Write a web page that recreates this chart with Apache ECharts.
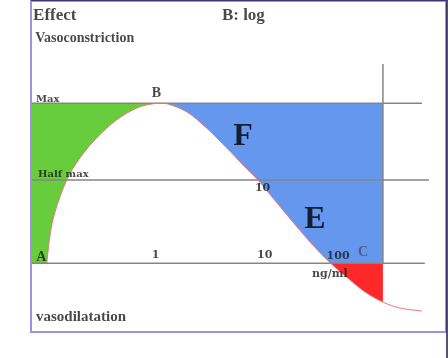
<!DOCTYPE html>
<html><head><meta charset="utf-8">
<script src="https://cdn.jsdelivr.net/npm/echarts@6/dist/echarts.min.js"></script>
<style>html,body{margin:0;padding:0;background:#fff}#c{width:448px;height:358px}</style>
</head><body><div id="c"></div>
<script>
// Dose-response curve (x: relative log concentration, y: effect, baseline 0, max 100)
const curveX = [3.8, 4.6, 5.8, 8.6, 11.8, 15.8, 20.6, 25.5, 29.1, 31.1, 33.1, 37.5, 42.3, 47.2, 51.1, 54.7, 58.3, 63.1, 67.9, 72.2, 76.9, 80.5, 84.8, 88.9, 94.2];
const curveY = [0, 17.6, 32.2, 52, 65.9, 78.3, 89.6, 97.1, 99.6, 100, 99.5, 94.7, 84.6, 72, 61.4, 52, 40.8, 25.8, 11.4, 0, -10.5, -18, -24.3, -28, -29.9];
const peakIndex = 9;
const crossIndex = 19;
const edgeIndex = 22;
// reference levels: Max, Half max, baseline
const refLevels = [100, 52, 0];
const refEnds = [94.2, 95.9, 94.9];
const edgeTop = 124.6;
// annotation texts
const annoText = ['Effect', 'B: log', 'Vasoconstriction', 'Max', 'B', 'Half max', '10', 'F', 'E', 'A', '1', '10', '100', 'C', 'ng/ml', 'vasodilatation'];
const annoX = [0.5, 46.0, 1.0, 1.2, 30.2, 1.7, 55.8, 51.1, 68.4, 2.5, 30.0, 56.3, 74.0, 80.0, 72.0, 1.2];
const annoY = [154.6, 154.6, 140.8, 102.6, 106.4, 55.8, 47.0, 78.9, 27.0, 3.9, 5.1, 5.1, 4.5, 7.0, -6.8, -33.6];

const edgeX = curveX[edgeIndex];
const nPts = curveX.length;

// smooth path through the curve points (Catmull-Rom -> cubic Bezier), in pixel space
function curvePath(P, from, to) {
  const d = to > from ? 1 : -1;
  const cl = k => P[Math.max(0, Math.min(nPts - 1, k))];
  let s = '';
  for (let i = from; i !== to; i += d) {
    const p0 = cl(i - d), p1 = cl(i), p2 = cl(i + d), p3 = cl(i + 2 * d);
    const c1 = [p1[0] + (p2[0] - p0[0]) / 6, p1[1] + (p2[1] - p0[1]) / 6];
    const c2 = [p2[0] - (p3[0] - p1[0]) / 6, p2[1] - (p3[1] - p1[1]) / 6];
    s += ' C' + c1[0] + ',' + c1[1] + ' ' + c2[0] + ',' + c2[1] + ' ' + p2[0] + ',' + p2[1];
  }
  return s;
}
const M = p => 'M' + p[0] + ',' + p[1];
const L = p => ' L' + p[0] + ',' + p[1];

function shapeSeries(kind, z) {
  return {
    type: 'custom', z: z, silent: true,
    data: [[0, 0]],
    renderItem: function (params, api) {
      const P = curveX.map((x, i) => api.coord([x, curveY[i]]));
      const c = v => api.coord(v);
      let d, style;
      if (kind === 'green') {
        d = M(c([0, 0])) + L(c([0, 100])) + L(P[peakIndex]) + curvePath(P, peakIndex, 0) + ' Z';
        style = { fill: '#68cd3c' };
      } else if (kind === 'blue') {
        d = M(P[peakIndex]) + L(c([edgeX, 100])) + L(c([edgeX, 0])) + L(P[crossIndex]) + curvePath(P, crossIndex, peakIndex) + ' Z';
        style = { fill: '#6697ee' };
      } else if (kind === 'red') {
        d = M(P[crossIndex]) + curvePath(P, crossIndex, edgeIndex) + L(c([edgeX, 0])) + ' Z';
        style = { fill: '#ff2828' };
      } else {
        d = M(P[0]) + curvePath(P, 0, nPts - 1);
        style = { fill: null, stroke: '#ec7474', lineWidth: 1 };
      }
      return { type: 'path', shape: { pathData: d }, style: style };
    }
  };
}

const serif = 'Liberation Serif';
const dv = 'DejaVu Serif';
function annoStyle(t) {
  const s = { color: '#1a1a1a', fontWeight: 'bold', fontFamily: serif, fontSize: 13, align: 'center', verticalAlign: 'middle' };
  if (t === 'Effect' || t === 'B: log') { s.fontSize = 17; s.align = 'left'; }
  else if (t === 'Vasoconstriction') { s.fontSize = 14; s.align = 'left'; }
  else if (t === 'vasodilatation') { s.fontSize = 15; s.align = 'left'; }
  else if (t === 'Max' || t === 'Half max') { s.fontFamily = dv; s.fontSize = 10; s.align = 'left'; }
  else if (t === 'F' || t === 'E') { s.fontSize = 32; s.color = '#000'; }
  else if (t === 'ng/ml') { s.fontFamily = dv; s.fontSize = 11; }
  else if (t === 'C') { s.fontSize = 14; s.color = '#4a5068'; }
  else if (t === 'A' || t === 'B') { s.fontSize = 14; }
  else { s.fontFamily = dv; s.fontSize = 11; }
  return s;
}

const series = [
  shapeSeries('green', 1),
  shapeSeries('blue', 1),
  shapeSeries('red', 1)
];
refLevels.forEach((lv, i) => {
  series.push({ type: 'line', z: 3, silent: true, symbol: 'none', data: [[0, lv], [refEnds[i], lv]], lineStyle: { color: '#858585', width: 1.5 } });
});
series.push({ type: 'line', z: 3, silent: true, symbol: 'none', data: [[edgeX, edgeTop], [edgeX, 0]], lineStyle: { color: '#858585', width: 1.5 } });
series.push(shapeSeries('curve', 4));
series.push({
  type: 'scatter', z: 6, silent: true, symbolSize: 0,
  data: annoText.map((t, i) => ({ value: [annoX[i], annoY[i]], label: Object.assign({ show: true, position: 'inside', formatter: t }, annoStyle(t)) }))
});

const chart = echarts.init(document.getElementById('c'), null, { renderer: 'canvas' });
chart.setOption({
  animation: false,
  backgroundColor: '#ffffff',
  grid: { left: 31, right: 2, top: 1, bottom: 26 },
  xAxis: { type: 'value', min: 0, max: 100, show: false },
  yAxis: { type: 'value', min: -43, max: 164, show: false },
  graphic: [
    { type: 'rect', z: 10, silent: true, shape: { x: 31, y: 1, width: 415, height: 331 }, style: { fill: null, stroke: '#9d92e0', lineWidth: 2 } },
    { type: 'line', z: 10, silent: true, shape: { x1: 447, y1: 0, x2: 447, y2: 358 }, style: { stroke: '#1c1c3c', lineWidth: 1.5 } },
    { type: 'line', z: 10, silent: true, shape: { x1: 31, y1: 0.5, x2: 447, y2: 0.5 }, style: { stroke: '#3a3470', lineWidth: 1 } }
  ],
  series: series
});
</script></body></html>
